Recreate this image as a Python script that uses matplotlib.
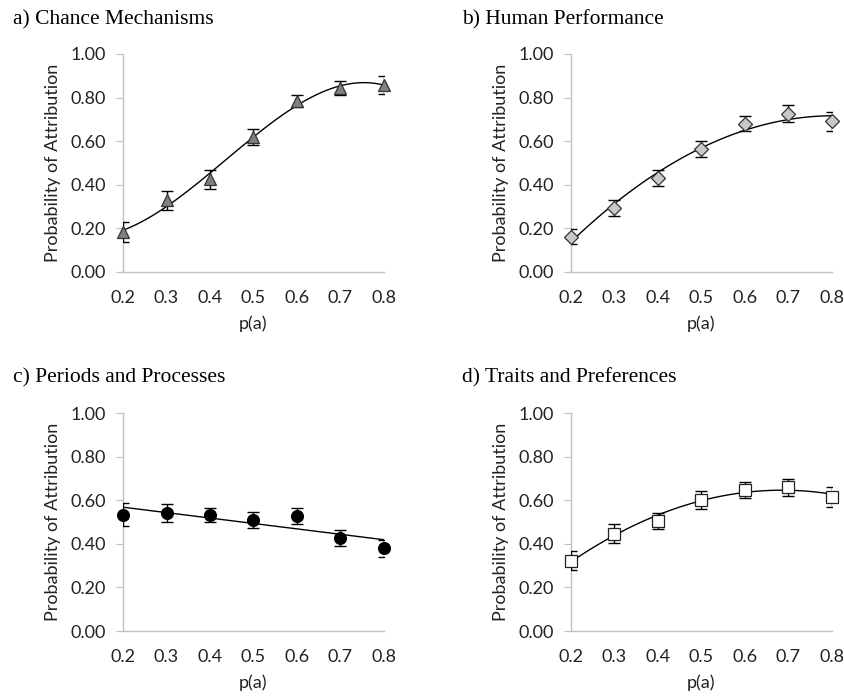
import numpy as np
import matplotlib
matplotlib.use("Agg")
import matplotlib.pyplot as plt

x_vals = [0.2, 0.3, 0.4, 0.5, 0.6, 0.7, 0.8]

a_mean = [0.183, 0.329, 0.425, 0.618, 0.783, 0.845, 0.858]
a_err = [0.047, 0.043, 0.043, 0.037, 0.028, 0.032, 0.040]

b_mean = [0.162, 0.292, 0.433, 0.563, 0.680, 0.725, 0.691]
b_err = [0.034, 0.036, 0.037, 0.037, 0.035, 0.039, 0.042]

c_mean = [0.534, 0.541, 0.534, 0.509, 0.528, 0.428, 0.379]
c_err = [0.052, 0.042, 0.032, 0.036, 0.035, 0.037, 0.040]

d_mean = [0.323, 0.446, 0.503, 0.602, 0.648, 0.659, 0.615]
d_err = [0.045, 0.043, 0.037, 0.041, 0.037, 0.039, 0.047]

titles = ["a) Chance Mechanisms", "b) Human Performance",
          "c) Periods and Processes", "d) Traits and Preferences"]
y_ticks = [0.0, 0.2, 0.4, 0.6, 0.8, 1.0]
x_ticks = x_vals
x_label = "p(a)"
y_label = "Probability of Attribution"

W, H = 845, 697
fig = plt.figure(figsize=(W / 100, H / 100), dpi=100)

panels = [
    (a_mean, a_err, 3, dict(marker="^", mfc="#808080", mec="#333333", ms=9)),
    (b_mean, b_err, 2, dict(marker="D", mfc="#c8c8c8", mec="#333333", ms=7)),
    (c_mean, c_err, 1, dict(marker="o", mfc="#000000", mec="#000000", ms=8.5)),
    (d_mean, d_err, 2, dict(marker="s", mfc="#ffffff", mec="#222222", ms=8)),
]

# pixel boxes (left, top, right, bottom)
boxes = [(123, 54, 384, 272), (571, 54, 832, 272),
         (123, 413, 384, 631), (571, 413, 832, 631)]
title_pos = [(13, 20), (462, 20), (13, 378), (462, 378)]

tick_font = "Lato"
fs = 13
for i, (mean, err, order, mk) in enumerate(panels):
    l, t, r, b = boxes[i]
    ax = fig.add_axes([l / W, 1 - b / H, (r - l) / W, (b - t) / H])
    ax.set_xlim(0.2, 0.8)
    ax.set_ylim(0, 1.0)
    coef = np.polyfit(x_vals, mean, order)
    xs = np.linspace(0.2, 0.8, 200)
    ax.plot(xs, np.polyval(coef, xs), color="black", lw=1.0, zorder=2)
    ax.errorbar(x_vals, mean, yerr=err, fmt="none", ecolor="black",
                elinewidth=1.0, capsize=4, capthick=1.0, zorder=3)
    ax.plot(x_vals, mean, linestyle="none", mew=0.9, zorder=4, clip_on=False, **mk)
    for s in ["top", "right"]:
        ax.spines[s].set_visible(False)
    for s in ["left", "bottom"]:
        ax.spines[s].set_color("#bfbfbf")
        ax.spines[s].set_linewidth(1.0)
    ax.set_yticks(y_ticks)
    ax.set_yticklabels([f"{v:.2f}" for v in y_ticks], fontfamily=tick_font, fontsize=fs, color="#222222")
    ax.set_xticks(x_ticks)
    ax.set_xticklabels([f"{v:.1f}" for v in x_ticks], fontfamily=tick_font, fontsize=fs, color="#222222")
    ax.tick_params(axis="y", length=5, color="#bfbfbf", pad=7)
    ax.tick_params(axis="x", length=0, pad=13)
    ax.set_ylabel(y_label, fontfamily=tick_font, fontsize=fs, color="#222222", labelpad=7)
    ax.set_xlabel(x_label, fontfamily=tick_font, fontsize=fs, color="#222222", labelpad=7)
    tx, ty = title_pos[i]
    fig.text(tx / W, 1 - ty / H, titles[i], fontfamily="Liberation Serif",
             fontsize=15.5, va="center", ha="left", color="black")

fig.savefig("out.png", dpi=100)
